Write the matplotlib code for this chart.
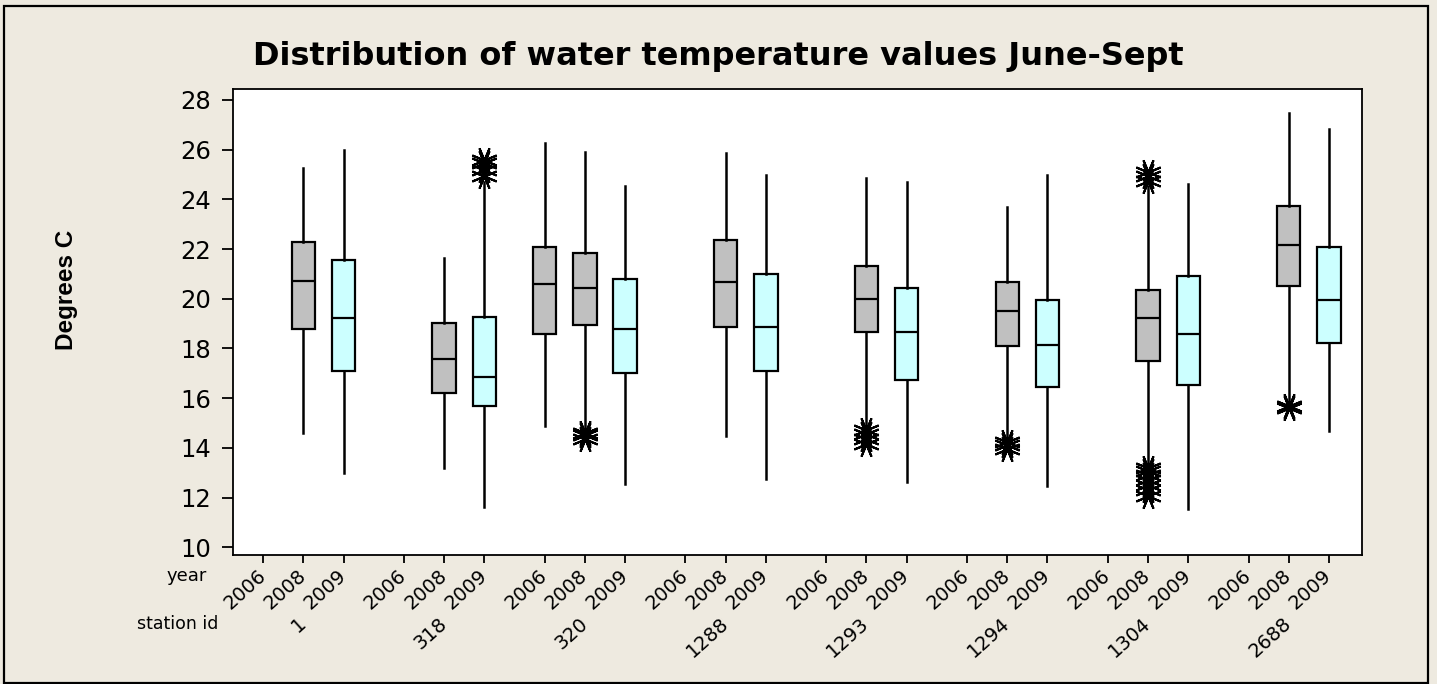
import matplotlib.pyplot as plt
import matplotlib.transforms as mtransforms
from matplotlib.patches import Rectangle

# station ids and years on the two-level x axis
stations = ['1', '318', '320', '1288', '1293', '1294', '1304', '2688']
years = ['2006', '2008', '2009']

# one entry per drawn box
box_station = [0, 0, 1, 1, 2, 2, 2, 3, 3, 4, 4, 5, 5, 6, 6, 7, 7]
box_year = [1, 2, 1, 2, 0, 1, 2, 1, 2, 1, 2, 1, 2, 1, 2, 1, 2]
whislo = [14.61, 12.98, 13.18, 11.61, 14.89, 14.70, 12.55, 14.48, 12.75,
          14.80, 12.62, 14.40, 12.47, 13.30, 11.53, 15.86, 14.69]
q1 = [18.80, 17.11, 16.22, 15.69, 18.58, 18.93, 17.03, 18.88, 17.11,
      18.66, 16.74, 18.09, 16.46, 17.51, 16.53, 20.50, 18.23]
med = [20.72, 19.23, 17.59, 16.87, 20.60, 20.43, 18.80, 20.66, 18.88,
       20.00, 18.68, 19.52, 18.15, 19.23, 18.58, 22.16, 19.95]
q3 = [22.29, 21.57, 19.03, 19.28, 22.08, 21.85, 20.78, 22.37, 21.01,
      21.31, 20.45, 20.66, 19.94, 20.37, 20.93, 23.72, 22.08]
whishi = [25.27, 25.98, 21.63, 24.70, 26.28, 25.92, 24.55, 25.85, 24.99,
          24.85, 24.70, 23.71, 24.98, 24.55, 24.63, 27.49, 26.85]
outliers = [
    [], [], [],
    [24.95, 25.2, 25.45, 25.6],
    [],
    [14.35, 14.5, 14.6],
    [], [], [],
    [14.15, 14.35, 14.55, 14.7],
    [],
    [13.95, 14.1, 14.25],
    [],
    [24.75, 24.95, 25.1,
     12.05, 12.3, 12.5, 12.7, 12.9, 13.05, 13.2],
    [],
    [15.6, 15.7],
    [],
]

bg = '#EEEAE0'
year_colors = {0: '#C0C0C0', 1: '#C0C0C0', 2: '#CCFFFF'}
group_step = 3.5

fig = plt.figure(figsize=(14.37, 6.84), dpi=100, facecolor=bg)
ax = fig.add_axes([0.1621, 0.1886, 0.7857, 0.6813])
ax.set_facecolor('white')

stats = []
positions = []
for i in range(len(box_station)):
    stats.append(dict(whislo=whislo[i], q1=q1[i], med=med[i], q3=q3[i],
                      whishi=whishi[i], fliers=outliers[i]))
    positions.append(box_station[i] * group_step + box_year[i])

bp = ax.bxp(stats, positions=positions, widths=0.58, patch_artist=True,
            showcaps=False,
            boxprops=dict(edgecolor='black', linewidth=1.6),
            medianprops=dict(color='black', linewidth=1.6),
            whiskerprops=dict(color='black', linewidth=1.8),
            flierprops=dict(marker=(8, 2, 22.5), markersize=19,
                            markeredgecolor='black', markeredgewidth=1.5,
                            linestyle='none'))
for patch, yi in zip(bp['boxes'], box_year):
    patch.set_facecolor(year_colors[yi])

# axis limits and ticks
ax.set_ylim(9.69, 28.44)
ax.set_xlim(-0.75, 27.32)
ax.set_yticks(range(10, 29, 2))
ax.tick_params(axis='y', labelsize=17.5, length=8, width=1.3, pad=8)

tick_pos = [s * group_step + y for s in range(len(stations)) for y in range(len(years))]
ax.set_xticks(tick_pos)
ax.set_xticklabels(years * len(stations), rotation=42, ha='right',
                   va='center', rotation_mode='anchor', fontsize=14)
ax.tick_params(axis='x', length=6, width=1.3, pad=7)

for side in ['left', 'right', 'top', 'bottom']:
    ax.spines[side].set_linewidth(1.3)

# station labels under the middle year tick
trans = mtransforms.blended_transform_factory(ax.transData, fig.transFigure)
for s, name in enumerate(stations):
    ax.text(s * group_step + 1, 1 - 621 / 684, name, transform=trans,
            rotation=42, ha='right', va='center', rotation_mode='anchor',
            fontsize=14)

fig.text(187 / 1437, 1 - 576 / 684, 'year', ha='center', va='center', fontsize=13)
fig.text(178 / 1437, 1 - 624 / 684, 'station id', ha='center', va='center',
         fontsize=12.5)

fig.text(0.5, 1 - 57 / 684, 'Distribution of water temperature values June-Sept',
         ha='center', va='center', fontsize=23, fontweight='bold')
fig.text(67 / 1437, 1 - 290 / 684, 'Degrees C', rotation=90, ha='center',
         va='center', fontsize=17.5, fontweight='bold',
         family=['Liberation Sans', 'DejaVu Sans'])

# outer frame of the graph window
fig.patches.append(Rectangle((4 / 1437, 1 / 684), 1424 / 1437, 677 / 684,
                             transform=fig.transFigure, fill=False,
                             edgecolor='black', linewidth=1.6))

fig.savefig('out.png', dpi=100, facecolor=bg)
